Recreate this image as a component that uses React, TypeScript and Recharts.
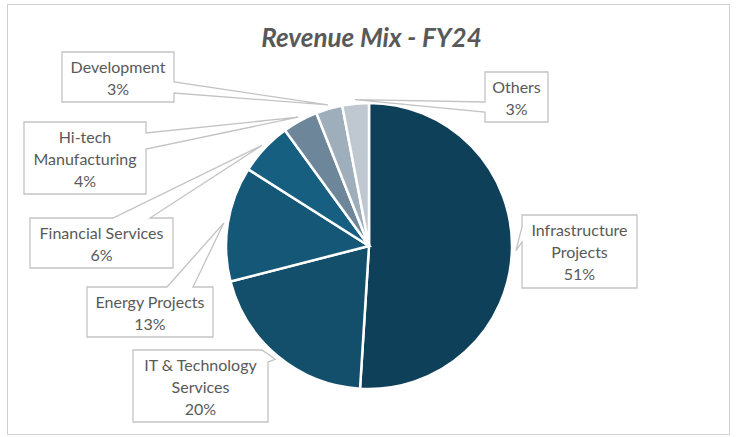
import React from "react";
import { Cell, Pie, PieChart } from "recharts";

const CATEGORIES = [
  "Infrastructure Projects",
  "IT & Technology Services",
  "Energy Projects",
  "Financial Services",
  "Hi-tech Manufacturing",
  "Development",
  "Others",
];
const SHARES = [51, 20, 13, 6, 4, 3, 3];
const SLICE_COLORS = ["#0e405a", "#134f6b", "#155776", "#175f80", "#6d8699", "#9eaebb", "#bfc8d1"];

const W = 743;
const H = 437;
const TEXT = "#595959";
const LINE = "#c3c3c3";

type Side = "top" | "right" | "bottom" | "left";
type Callout = {
  x: number;
  y: number;
  w: number;
  h: number;
  lines: string[];
  // tail base: two points on the box outline, given as side + offset
  base: [Side, number][];
};

// callout boxes, placed by hand like the original
const CALLOUTS: Record<string, Callout> = {
  "Infrastructure Projects": { x: 522, y: 215, w: 115, h: 73, lines: ["Infrastructure", "Projects"], base: [["left", 12], ["left", 27]] },
  "IT & Technology Services": { x: 133, y: 350, w: 135, h: 72, lines: ["IT & Technology", "Services"], base: [["top", 129], ["right", 12]] },
  "Energy Projects": { x: 87, y: 287, w: 126, h: 50, lines: ["Energy Projects"], base: [["top", 80], ["top", 106]] },
  "Financial Services": { x: 30, y: 218, w: 143, h: 50, lines: ["Financial Services"], base: [["top", 83], ["top", 120]] },
  "Hi-tech Manufacturing": { x: 24, y: 122, w: 122, h: 72, lines: ["Hi-tech", "Manufacturing"], base: [["right", 11], ["right", 27]] },
  Development: { x: 62, y: 52, w: 112, h: 50, lines: ["Development"], base: [["right", 30], ["right", 41]] },
  Others: { x: 485, y: 72, w: 63, h: 50, lines: ["Others"], base: [["left", 30], ["left", 40]] },
};

const data = CATEGORIES.map((name, i) => ({ name, value: SHARES[i] }));

function perim(side: Side, off: number, w: number, h: number) {
  if (side === "top") return off;
  if (side === "right") return w + off;
  if (side === "bottom") return w + h + (w - off);
  return 2 * w + h + (h - off);
}

function calloutPath(c: Callout, tip: [number, number]) {
  const { x, y, w, h } = c;
  const [d1, d2] = c.base.map(([s, o]) => perim(s, o, w, h)).sort((p, q) => p - q);
  const pt = (d: number): [number, number] => {
    if (d <= w) return [x + d, y];
    if (d <= w + h) return [x + w, y + d - w];
    if (d <= 2 * w + h) return [x + w - (d - w - h), y + h];
    return [x, y + h - (d - 2 * w - h)];
  };
  const corners = [w, w + h, 2 * w + h];
  const pts: [number, number][] = [[x, y]];
  corners.filter((d) => d < d1).forEach((d) => pts.push(pt(d)));
  pts.push(pt(d1), tip, pt(d2));
  corners.filter((d) => d > d2).forEach((d) => pts.push(pt(d)));
  return "M" + pts.map((p) => p.join(",")).join("L") + "Z";
}

const RAD = Math.PI / 180;

function renderCallout(props: any) {
  const { cx, cy, midAngle, outerRadius, name, value } = props;
  const c = CALLOUTS[name];
  if (!c) return null;
  const r = outerRadius + 4;
  const tip: [number, number] = [cx + r * Math.cos(-midAngle * RAD), cy + r * Math.sin(-midAngle * RAD)];
  const lines = [...c.lines, `${value}%`];
  const lh = 22;
  const top = c.y + c.h / 2 - ((lines.length - 1) * lh) / 2;
  return (
    <g>
      <path d={calloutPath(c, tip)} fill="#fff" stroke={LINE} strokeWidth={1.3} />
      {lines.map((t, i) => (
        <text
          key={i}
          x={c.x + c.w / 2}
          y={top + i * lh}
          textAnchor="middle"
          dominantBaseline="central"
          fill={TEXT}
          fontSize={16}
          fontFamily="Lato, 'Open Sans', sans-serif"
        >
          {t}
        </text>
      ))}
    </g>
  );
}

export default function App() {
  return (
    <div style={{ position: "absolute", left: 0, top: 0, width: W, height: H, background: "#fff" }}>
      <div
        style={{
          position: "absolute",
          left: 7,
          top: 4,
          width: 723,
          height: 431,
          boxSizing: "border-box",
          border: "1.5px solid #d0d0d0",
        }}
      />
      <div
        style={{
          position: "absolute",
          left: 0,
          top: 21,
          width: W,
          textAlign: "center",
          fontFamily: "Lato, 'Open Sans', sans-serif",
          fontSize: 26,
          fontWeight: 700,
          fontStyle: "italic",
          color: TEXT,
        }}
      >
        Revenue Mix - FY24
      </div>
      <div style={{ position: "absolute", left: 0, top: 0 }}>
        <PieChart width={W} height={H} margin={{ top: 0, right: 0, bottom: 0, left: 0 }}>
          <Pie
            data={data}
            dataKey="value"
            nameKey="name"
            cx={369}
            cy={246}
            outerRadius={143}
            startAngle={90}
            endAngle={-270}
            stroke="#fff"
            strokeWidth={2.5}
            labelLine={false}
            label={renderCallout}
            isAnimationActive={false}
          >
            {data.map((d, i) => (
              <Cell key={d.name} fill={SLICE_COLORS[i]} />
            ))}
          </Pie>
        </PieChart>
      </div>
    </div>
  );
}
